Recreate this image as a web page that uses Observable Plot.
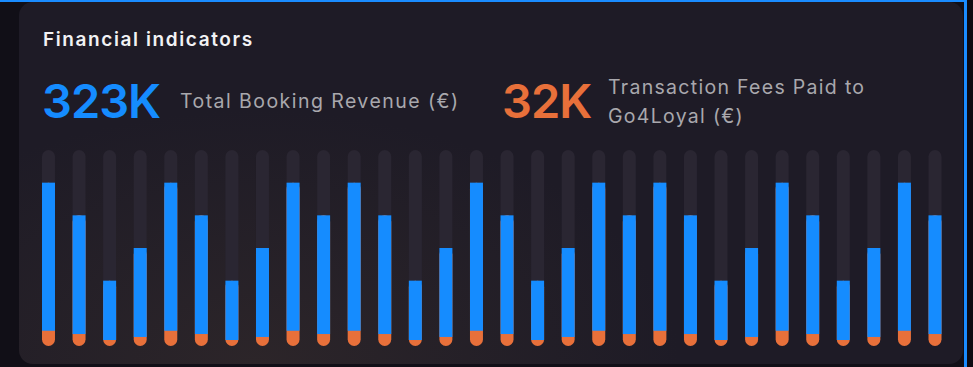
<!DOCTYPE html>
<html>
<head>
<meta charset="utf-8">
<script src="https://cdn.jsdelivr.net/npm/d3@7"></script>
<script src="https://cdn.jsdelivr.net/npm/@observablehq/plot@0.6"></script>
<style>
  html, body { margin: 0; padding: 0; background: #110f17; width: 973px; height: 367px; overflow: hidden; }
  #stage { position: relative; width: 973px; height: 367px; font-family: Inter, "Open Sans", sans-serif; }
  #topline { position: absolute; left: 0; top: 0; width: 966px; height: 1.5px; background: #1a8cff; }
  #rightline { position: absolute; left: 964px; top: 0; width: 3px; height: 367px; background: #1a8cff; }
  #rightdark { position: absolute; left: 967px; top: 0; width: 6px; height: 367px; background: #0d0b12; }
  #card { position: absolute; left: 19px; top: 2px; width: 944px; height: 362px; border-radius: 14px;
          background: radial-gradient(ellipse 45% 70% at 25% 100%, #2c2529 0%, #1e1b26 100%); }
  .t { position: absolute; white-space: nowrap; line-height: 1; }
  #title { left: 43px; top: 30px; font-size: 19px; font-weight: 600; color: #f2f2f4; letter-spacing: 1.6px; }
  #kpi1 { left: 42px; top: 77px; font-size: 47px; font-weight: 600; color: #158cff; letter-spacing: -1px; }
  #lab1 { left: 180px; top: 92px; font-size: 19.5px; font-weight: 400; color: #a9a8ad; letter-spacing: 1.45px; }
  #kpi2 { left: 502px; top: 77px; font-size: 47px; font-weight: 600; color: #e8703a; letter-spacing: -1px; }
  #lab2 { left: 608px; top: 73px; font-size: 19.5px; font-weight: 400; color: #a9a8ad; line-height: 29px; letter-spacing: 1.3px; }
  #chart { position: absolute; left: 0; top: 140px; }
</style>
</head>
<body>
<div id="stage">
  <div id="topline"></div>
  <div id="rightline"></div>
  <div id="rightdark"></div>
  <div id="card"></div>
  <div class="t" id="title"></div>
  <div class="t" id="kpi1"></div>
  <div class="t" id="lab1"></div>
  <div class="t" id="kpi2"></div>
  <div class="t" id="lab2"></div>
  <div id="chart"></div>
</div>
<script>
const titleText = "Financial indicators";
const kpiValues = ["323K", "32K"];
const kpiLabels = ["Total Booking Revenue (€)", "Transaction Fees Paid to<br>Go4Loyal (€)"];

const periods = ["1","2","3","4","5","6","7","8","9","10","11","12","13","14","15",
                 "16","17","18","19","20","21","22","23","24","25","26","27","28","29","30"];
const revenue = [15000,12000,6000,9000,15000,12000,6000,9000,15000,12000,15000,12000,6000,9000,15000,
                 12000,6000,9000,15000,12000,15000,12000,6000,9000,15000,12000,6000,9000,15000,12000];
const fees = [1400,1100,550,830,1400,1100,550,830,1400,1100,1400,1100,550,830,1400,
              1100,550,830,1400,1100,1400,1100,550,830,1400,1100,550,830,1400,1100];
const trackMax = 18000;

document.getElementById("title").textContent = titleText;
document.getElementById("kpi1").textContent = kpiValues[0];
document.getElementById("kpi2").textContent = kpiValues[1];
document.getElementById("lab1").innerHTML = kpiLabels[0];
document.getElementById("lab2").innerHTML = kpiLabels[1];

const data = periods.map((p, i) => ({period: p, revenue: revenue[i], fee: fees[i], track: trackMax}));

const chart = Plot.plot({
  width: 973,
  height: 220,
  marginLeft: 42,
  marginRight: 31.5,
  marginTop: 10,
  marginBottom: 14,
  style: {background: "transparent"},
  x: {domain: periods, paddingInner: 0.575, paddingOuter: 0, round: false, axis: null},
  y: {domain: [0, trackMax], axis: null},
  marks: [
    Plot.barY(data, {x: "period", y1: 0, y2: "track", fill: "#2a2632", rx: 6.5}),
    Plot.barY(data, {x: "period", y1: 0, y2: "revenue", fill: "#e8703a", rx: 6.5}),
    Plot.barY(data, {x: "period", y1: "fee", y2: "revenue", fill: "#158cff"})
  ]
});
document.getElementById("chart").appendChild(chart);
</script>
</body>
</html>
